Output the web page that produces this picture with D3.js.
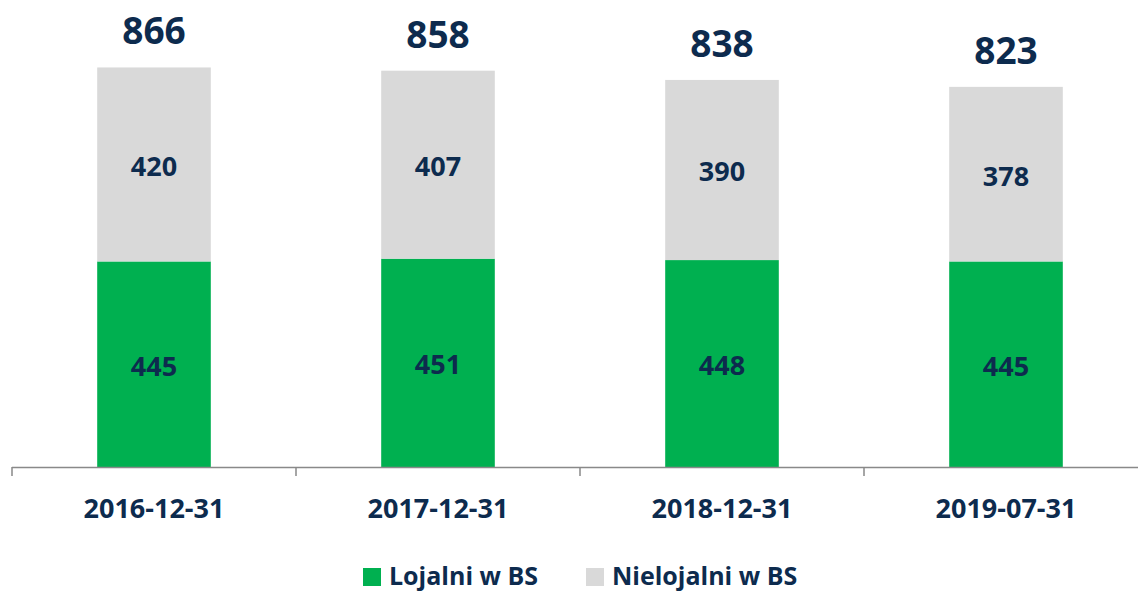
<!doctype html>
<html lang="pl">
  <head>
    <meta charset="utf-8">
    <title>Lojalni w BS</title>
    <script src="https://d3js.org/d3.v7.min.js"></script>
    <style>
      body { margin: 0; background: #fff; }
      text { font-family: "Open Sans", sans-serif; font-weight: 700; fill: #0d2b4e; }
    </style>
  </head>
  <body>
    <svg width="1138" height="592"></svg>
    <script>
      var categories = ["2016-12-31", "2017-12-31", "2018-12-31", "2019-07-31"];
      var lojalni = [445, 451, 448, 445];
      var nielojalni = [420, 407, 390, 378];
      var totals = [866, 858, 838, 823];
      var seriesNames = ["Lojalni w BS", "Nielojalni w BS"];

      var colors = { "Lojalni w BS": "#00b050", "Nielojalni w BS": "#d9d9d9" };

      var svg = d3.select("svg");
      var baseY = 467;

      var x = d3.scaleBand()
                .domain(categories)
                .range([12, 1148])
                .paddingInner(0.6)
                .paddingOuter(0.3);
      var y = d3.scaleLinear()
                .domain([0, 866])
                .range([baseY, 67]);

      var rows = categories.map(function(c, i) {
        return { cat: c, "Lojalni w BS": lojalni[i], "Nielojalni w BS": nielojalni[i], total: totals[i] };
      });
      var stack = d3.stack().keys(seriesNames)(rows);

      var layers = svg.selectAll("g.layer")
        .data(stack)
        .enter().append("g")
          .attr("class", "layer")
          .attr("fill", function(d) { return colors[d.key]; });

      layers.selectAll("rect")
        .data(function(d) { return d; })
        .enter().append("rect")
          .attr("x", function(d) { return x(d.data.cat); })
          .attr("width", x.bandwidth())
          .attr("y", function(d) { return y(d[1]); })
          .attr("height", function(d) { return y(d[0]) - y(d[1]); });

      // values inside segments
      layers.selectAll("text")
        .data(function(d) { return d.map(function(s) { return { s: s, key: d.key }; }); })
        .enter().append("text")
          .attr("x", function(d) { return x(d.s.data.cat) + x.bandwidth() / 2; })
          .attr("y", function(d) { return (y(d.s[0]) + y(d.s[1])) / 2 + 2; })
          .attr("dy", "0.35em")
          .attr("text-anchor", "middle")
          .attr("font-size", "27px")
          .text(function(d) { return d.s.data[d.key]; });

      // totals
      svg.selectAll("text.total")
        .data(rows)
        .enter().append("text")
          .attr("class", "total")
          .attr("x", function(d) { return x(d.cat) + x.bandwidth() / 2; })
          .attr("y", function(d) { return y(d.total) - 36; })
          .attr("dy", "0.35em")
          .attr("text-anchor", "middle")
          .attr("font-size", "37px")
          .text(function(d) { return d.total; });

      // axis
      var axis = svg.append("g").attr("stroke", "#898989").attr("stroke-width", 1.5);
      axis.append("line")
        .attr("x1", 12).attr("x2", 1148)
        .attr("y1", baseY + 0.5).attr("y2", baseY + 0.5);
      var edges = categories.map(function(c) { return x(c) - x.step() * x.paddingOuter(); });
      edges.push(x.range()[1]);
      axis.selectAll("line.tick")
        .data(edges)
        .enter().append("line")
          .attr("class", "tick")
          .attr("x1", function(d) { return d; }).attr("x2", function(d) { return d; })
          .attr("y1", baseY).attr("y2", baseY + 9);

      svg.selectAll("text.cat")
        .data(categories)
        .enter().append("text")
          .attr("class", "cat")
          .attr("x", function(d) { return x(d) + x.bandwidth() / 2; })
          .attr("y", 509)
          .attr("dy", "0.35em")
          .attr("text-anchor", "middle")
          .attr("font-size", "27px")
          .text(function(d) { return d; });

      // legend
      var legendX = [363, 586];
      var legend = svg.selectAll("g.legend")
        .data(seriesNames)
        .enter().append("g")
          .attr("class", "legend")
          .attr("transform", function(d, i) { return "translate(" + legendX[i] + ",568)"; });
      legend.append("rect")
        .attr("width", 18).attr("height", 18)
        .attr("fill", function(d) { return colors[d]; });
      legend.append("text")
        .attr("x", 26)
        .attr("y", 9)
        .attr("dy", "0.3em")
        .attr("font-size", "25px")
        .text(function(d) { return d; });
    </script>
  </body>
</html>
